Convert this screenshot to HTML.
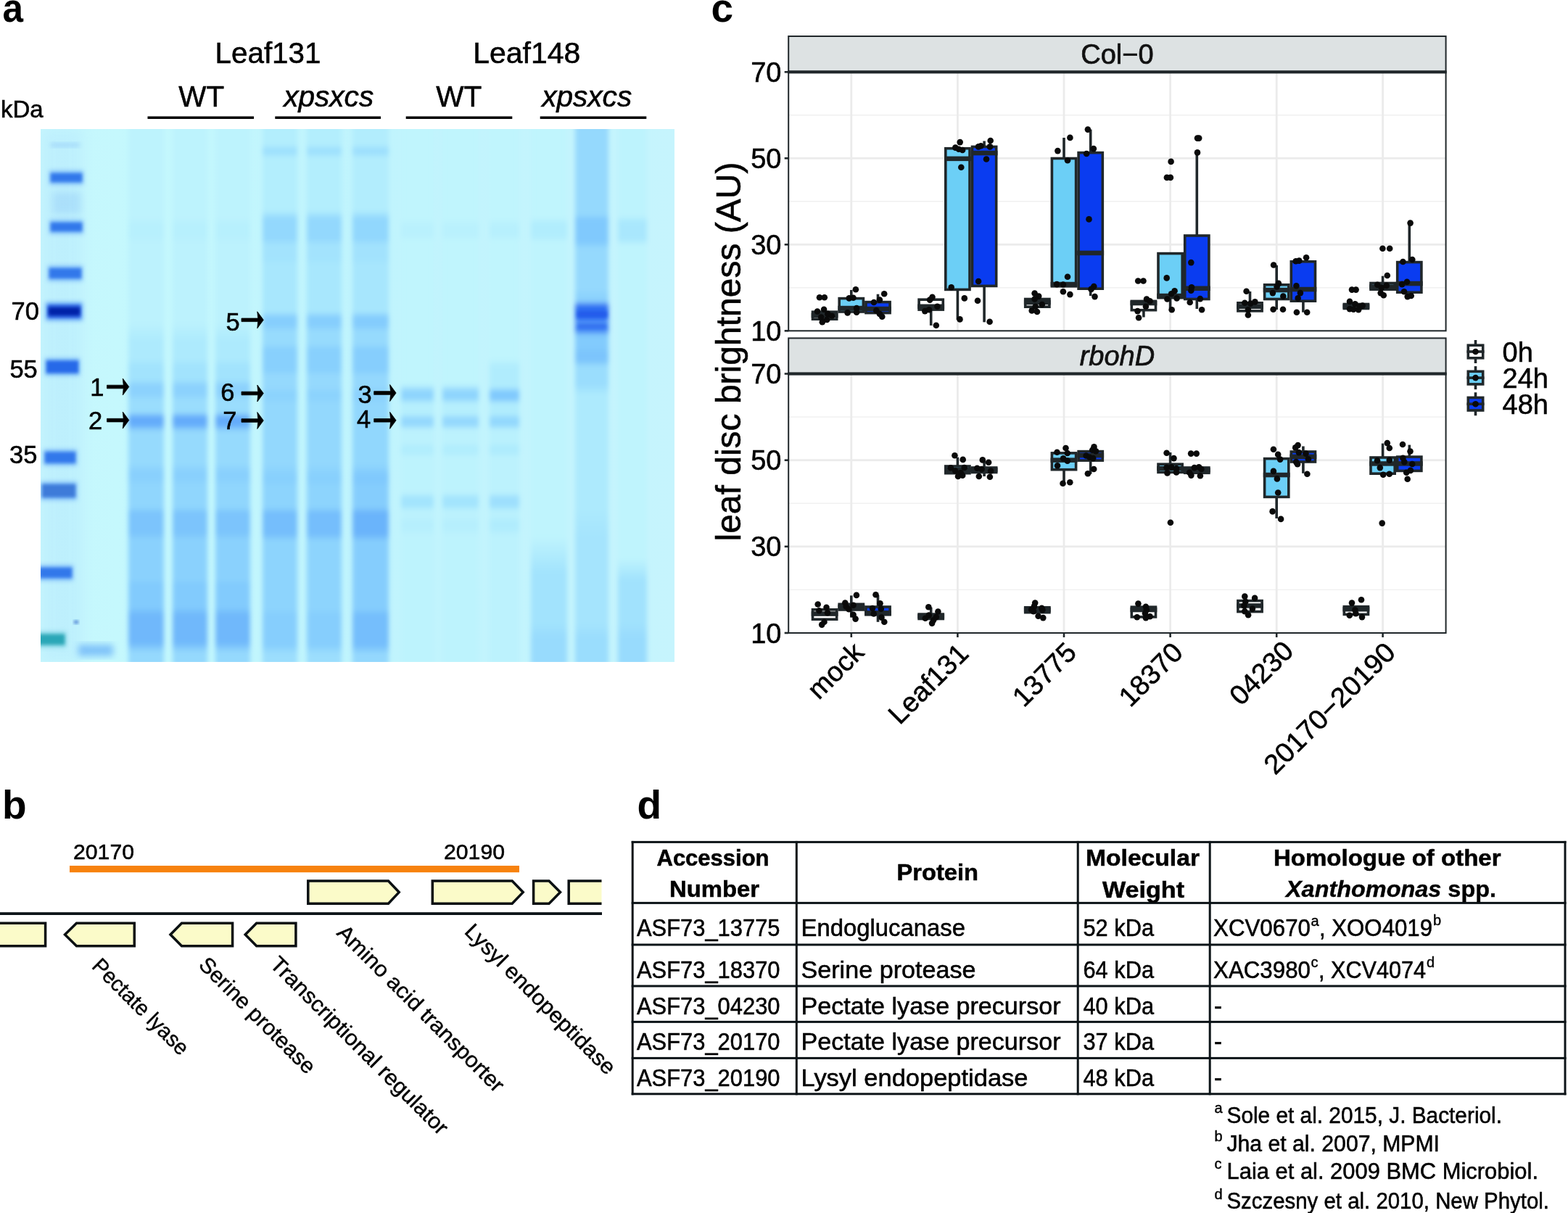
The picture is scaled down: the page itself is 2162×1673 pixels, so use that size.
<!DOCTYPE html>
<html lang="en">
<head>
<meta charset="utf-8">
<title>Figure</title>
<style>
html,body{margin:0;padding:0;background:#fff;}
body{width:2162px;height:1673px;overflow:hidden;}
svg{display:block;font-family:'Liberation Sans', Arial, Helvetica, sans-serif;}
</style>
</head>
<body>
<svg width="2162" height="1673" viewBox="0 0 2162 1673">
<rect x="0" y="0" width="2162" height="1673" fill="#ffffff"/>
<defs>
<clipPath id="gelclip"><rect x="56" y="178" width="874" height="735"/></clipPath>
<filter id="b2" x="-20%" y="-50%" width="140%" height="200%"><feGaussianBlur stdDeviation="2"/></filter>
<filter id="b3" x="-20%" y="-50%" width="140%" height="200%"><feGaussianBlur stdDeviation="3.2"/></filter>
<filter id="b3x" x="-20%" y="-5%" width="140%" height="110%"><feGaussianBlur stdDeviation="3 3.5"/></filter>
<filter id="b5" x="-30%" y="-30%" width="160%" height="160%"><feGaussianBlur stdDeviation="5"/></filter>
<filter id="b8" x="-30%" y="-30%" width="160%" height="160%"><feGaussianBlur stdDeviation="8"/></filter>
<linearGradient id="gelbg" x1="0" y1="0" x2="1" y2="0"><stop offset="0" stop-color="#c6f6fd"/><stop offset="0.12" stop-color="#c5f8fd"/><stop offset="0.5" stop-color="#c0f4fd"/><stop offset="1" stop-color="#c6f4fd"/></linearGradient>
</defs>
<g clip-path="url(#gelclip)">
<rect x="56" y="178" width="874" height="735" fill="url(#gelbg)"/>
<linearGradient id="lg1" gradientUnits="userSpaceOnUse" x1="0" y1="178" x2="0" y2="913"><stop offset="0.0000" stop-color="#bdf3fd"/><stop offset="0.1660" stop-color="#bdf3fd"/><stop offset="0.1796" stop-color="#b7f0fd"/><stop offset="0.2014" stop-color="#b7f0fd"/><stop offset="0.2150" stop-color="#bcf2fd"/><stop offset="0.3633" stop-color="#bcf2fd"/><stop offset="0.3973" stop-color="#adeafd"/><stop offset="0.4313" stop-color="#adeafd"/><stop offset="0.4449" stop-color="#a2e3fd"/><stop offset="0.4707" stop-color="#a2e3fd"/><stop offset="0.4803" stop-color="#8cd2fd"/><stop offset="0.4993" stop-color="#8cd2fd"/><stop offset="0.5075" stop-color="#9addfd"/><stop offset="0.5320" stop-color="#9addfd"/><stop offset="0.5401" stop-color="#63abfa"/><stop offset="0.5551" stop-color="#63abfa"/><stop offset="0.5673" stop-color="#96dafd"/><stop offset="0.6286" stop-color="#96dafd"/><stop offset="0.6422" stop-color="#89d0fd"/><stop offset="0.6585" stop-color="#89d0fd"/><stop offset="0.6667" stop-color="#90d6fd"/><stop offset="0.7102" stop-color="#90d6fd"/><stop offset="0.7197" stop-color="#7bc4fc"/><stop offset="0.7578" stop-color="#7bc4fc"/><stop offset="0.7701" stop-color="#8ad1fd"/><stop offset="0.8463" stop-color="#8ad1fd"/><stop offset="0.8531" stop-color="#82cbfd"/><stop offset="0.8980" stop-color="#82cbfd"/><stop offset="0.9116" stop-color="#6fb8fb"/><stop offset="0.9633" stop-color="#6fb8fb"/><stop offset="0.9823" stop-color="#95d9fd"/><stop offset="1.0000" stop-color="#95d9fd"/></linearGradient>
<rect x="177" y="168" width="49" height="755" fill="url(#lg1)" filter="url(#b3x)"/>
<linearGradient id="lg2" gradientUnits="userSpaceOnUse" x1="0" y1="178" x2="0" y2="913"><stop offset="0.0000" stop-color="#bdf3fd"/><stop offset="0.1660" stop-color="#bdf3fd"/><stop offset="0.1796" stop-color="#b7f0fd"/><stop offset="0.2014" stop-color="#b7f0fd"/><stop offset="0.2150" stop-color="#bcf2fd"/><stop offset="0.3633" stop-color="#bcf2fd"/><stop offset="0.3973" stop-color="#adeafd"/><stop offset="0.4313" stop-color="#adeafd"/><stop offset="0.4449" stop-color="#a2e3fd"/><stop offset="0.4707" stop-color="#a2e3fd"/><stop offset="0.4803" stop-color="#8cd2fd"/><stop offset="0.4993" stop-color="#8cd2fd"/><stop offset="0.5075" stop-color="#9addfd"/><stop offset="0.5320" stop-color="#9addfd"/><stop offset="0.5401" stop-color="#63abfa"/><stop offset="0.5551" stop-color="#63abfa"/><stop offset="0.5673" stop-color="#96dafd"/><stop offset="0.6286" stop-color="#96dafd"/><stop offset="0.6422" stop-color="#89d0fd"/><stop offset="0.6585" stop-color="#89d0fd"/><stop offset="0.6667" stop-color="#90d6fd"/><stop offset="0.7102" stop-color="#90d6fd"/><stop offset="0.7197" stop-color="#7bc4fc"/><stop offset="0.7578" stop-color="#7bc4fc"/><stop offset="0.7701" stop-color="#8ad1fd"/><stop offset="0.8463" stop-color="#8ad1fd"/><stop offset="0.8531" stop-color="#82cbfd"/><stop offset="0.8980" stop-color="#82cbfd"/><stop offset="0.9116" stop-color="#6fb8fb"/><stop offset="0.9633" stop-color="#6fb8fb"/><stop offset="0.9823" stop-color="#95d9fd"/><stop offset="1.0000" stop-color="#95d9fd"/></linearGradient>
<rect x="238" y="168" width="48" height="755" fill="url(#lg2)" filter="url(#b3x)"/>
<linearGradient id="lg3" gradientUnits="userSpaceOnUse" x1="0" y1="178" x2="0" y2="913"><stop offset="0.0000" stop-color="#bdf3fd"/><stop offset="0.1660" stop-color="#bdf3fd"/><stop offset="0.1796" stop-color="#b7f0fd"/><stop offset="0.2014" stop-color="#b7f0fd"/><stop offset="0.2150" stop-color="#bcf2fd"/><stop offset="0.3633" stop-color="#bcf2fd"/><stop offset="0.3973" stop-color="#adeafd"/><stop offset="0.4313" stop-color="#adeafd"/><stop offset="0.4449" stop-color="#a2e3fd"/><stop offset="0.4707" stop-color="#a2e3fd"/><stop offset="0.4803" stop-color="#8cd2fd"/><stop offset="0.4993" stop-color="#8cd2fd"/><stop offset="0.5075" stop-color="#9addfd"/><stop offset="0.5320" stop-color="#9addfd"/><stop offset="0.5401" stop-color="#63abfa"/><stop offset="0.5551" stop-color="#63abfa"/><stop offset="0.5673" stop-color="#96dafd"/><stop offset="0.6286" stop-color="#96dafd"/><stop offset="0.6422" stop-color="#89d0fd"/><stop offset="0.6585" stop-color="#89d0fd"/><stop offset="0.6667" stop-color="#90d6fd"/><stop offset="0.7102" stop-color="#90d6fd"/><stop offset="0.7197" stop-color="#7bc4fc"/><stop offset="0.7578" stop-color="#7bc4fc"/><stop offset="0.7701" stop-color="#8ad1fd"/><stop offset="0.8463" stop-color="#8ad1fd"/><stop offset="0.8531" stop-color="#82cbfd"/><stop offset="0.8980" stop-color="#82cbfd"/><stop offset="0.9116" stop-color="#6fb8fb"/><stop offset="0.9633" stop-color="#6fb8fb"/><stop offset="0.9823" stop-color="#95d9fd"/><stop offset="1.0000" stop-color="#95d9fd"/></linearGradient>
<rect x="297" y="168" width="48" height="755" fill="url(#lg3)" filter="url(#b3x)"/>
<linearGradient id="lg4" gradientUnits="userSpaceOnUse" x1="0" y1="178" x2="0" y2="913"><stop offset="0.0000" stop-color="#b3eefd"/><stop offset="0.0299" stop-color="#b3eefd"/><stop offset="0.0367" stop-color="#9ee0fd"/><stop offset="0.0463" stop-color="#9ee0fd"/><stop offset="0.0531" stop-color="#b3eefd"/><stop offset="0.1524" stop-color="#b3eefd"/><stop offset="0.1687" stop-color="#93d8fd"/><stop offset="0.2068" stop-color="#93d8fd"/><stop offset="0.2163" stop-color="#a3e3fd"/><stop offset="0.2449" stop-color="#a3e3fd"/><stop offset="0.2544" stop-color="#a8e7fd"/><stop offset="0.3429" stop-color="#a8e7fd"/><stop offset="0.3524" stop-color="#86cefd"/><stop offset="0.3701" stop-color="#86cefd"/><stop offset="0.3782" stop-color="#97dbfd"/><stop offset="0.4041" stop-color="#97dbfd"/><stop offset="0.4122" stop-color="#88d0fd"/><stop offset="0.4544" stop-color="#88d0fd"/><stop offset="0.4612" stop-color="#95d9fd"/><stop offset="0.4857" stop-color="#95d9fd"/><stop offset="0.4925" stop-color="#8cd3fd"/><stop offset="0.5061" stop-color="#8cd3fd"/><stop offset="0.5143" stop-color="#93d8fd"/><stop offset="0.6286" stop-color="#93d8fd"/><stop offset="0.6490" stop-color="#88d0fd"/><stop offset="0.6626" stop-color="#88d0fd"/><stop offset="0.6694" stop-color="#8dd4fd"/><stop offset="0.7102" stop-color="#8dd4fd"/><stop offset="0.7197" stop-color="#75befc"/><stop offset="0.7605" stop-color="#75befc"/><stop offset="0.7728" stop-color="#8dd4fd"/><stop offset="0.9007" stop-color="#8dd4fd"/><stop offset="0.9116" stop-color="#86cefd"/><stop offset="0.9687" stop-color="#86cefd"/><stop offset="0.9850" stop-color="#9cdefd"/><stop offset="1.0000" stop-color="#9cdefd"/></linearGradient>
<rect x="362" y="168" width="48" height="755" fill="url(#lg4)" filter="url(#b3x)"/>
<linearGradient id="lg5" gradientUnits="userSpaceOnUse" x1="0" y1="178" x2="0" y2="913"><stop offset="0.0000" stop-color="#b3eefd"/><stop offset="0.0299" stop-color="#b3eefd"/><stop offset="0.0367" stop-color="#9ee0fd"/><stop offset="0.0463" stop-color="#9ee0fd"/><stop offset="0.0531" stop-color="#b3eefd"/><stop offset="0.1524" stop-color="#b3eefd"/><stop offset="0.1687" stop-color="#93d8fd"/><stop offset="0.2068" stop-color="#93d8fd"/><stop offset="0.2163" stop-color="#a3e3fd"/><stop offset="0.2449" stop-color="#a3e3fd"/><stop offset="0.2544" stop-color="#a8e7fd"/><stop offset="0.3429" stop-color="#a8e7fd"/><stop offset="0.3524" stop-color="#86cefd"/><stop offset="0.3701" stop-color="#86cefd"/><stop offset="0.3782" stop-color="#97dbfd"/><stop offset="0.4041" stop-color="#97dbfd"/><stop offset="0.4122" stop-color="#88d0fd"/><stop offset="0.4544" stop-color="#88d0fd"/><stop offset="0.4612" stop-color="#95d9fd"/><stop offset="0.4857" stop-color="#95d9fd"/><stop offset="0.4925" stop-color="#8cd3fd"/><stop offset="0.5061" stop-color="#8cd3fd"/><stop offset="0.5143" stop-color="#93d8fd"/><stop offset="0.6286" stop-color="#93d8fd"/><stop offset="0.6490" stop-color="#88d0fd"/><stop offset="0.6626" stop-color="#88d0fd"/><stop offset="0.6694" stop-color="#8dd4fd"/><stop offset="0.7102" stop-color="#8dd4fd"/><stop offset="0.7197" stop-color="#75befc"/><stop offset="0.7605" stop-color="#75befc"/><stop offset="0.7728" stop-color="#8dd4fd"/><stop offset="0.9007" stop-color="#8dd4fd"/><stop offset="0.9116" stop-color="#86cefd"/><stop offset="0.9687" stop-color="#86cefd"/><stop offset="0.9850" stop-color="#9cdefd"/><stop offset="1.0000" stop-color="#9cdefd"/></linearGradient>
<rect x="423" y="168" width="48" height="755" fill="url(#lg5)" filter="url(#b3x)"/>
<linearGradient id="lg6" gradientUnits="userSpaceOnUse" x1="0" y1="178" x2="0" y2="913"><stop offset="0.0000" stop-color="#b2edfd"/><stop offset="0.0299" stop-color="#b2edfd"/><stop offset="0.0367" stop-color="#9ddffd"/><stop offset="0.0463" stop-color="#9ddffd"/><stop offset="0.0531" stop-color="#b2edfd"/><stop offset="0.1524" stop-color="#b2edfd"/><stop offset="0.1687" stop-color="#91d7fd"/><stop offset="0.2068" stop-color="#91d7fd"/><stop offset="0.2163" stop-color="#a2e2fd"/><stop offset="0.2449" stop-color="#a2e2fd"/><stop offset="0.2544" stop-color="#a7e6fd"/><stop offset="0.3429" stop-color="#a7e6fd"/><stop offset="0.3524" stop-color="#84ccfd"/><stop offset="0.3701" stop-color="#84ccfd"/><stop offset="0.3782" stop-color="#96dafd"/><stop offset="0.4041" stop-color="#96dafd"/><stop offset="0.4122" stop-color="#86cefd"/><stop offset="0.4544" stop-color="#86cefd"/><stop offset="0.4612" stop-color="#94d8fd"/><stop offset="0.4857" stop-color="#94d8fd"/><stop offset="0.4925" stop-color="#8bd1fd"/><stop offset="0.5061" stop-color="#8bd1fd"/><stop offset="0.5143" stop-color="#91d7fd"/><stop offset="0.6286" stop-color="#91d7fd"/><stop offset="0.6490" stop-color="#80c9fd"/><stop offset="0.6626" stop-color="#80c9fd"/><stop offset="0.6694" stop-color="#85cdfd"/><stop offset="0.7102" stop-color="#85cdfd"/><stop offset="0.7197" stop-color="#6bb4fb"/><stop offset="0.7605" stop-color="#6bb4fb"/><stop offset="0.7728" stop-color="#85cdfd"/><stop offset="0.9007" stop-color="#85cdfd"/><stop offset="0.9116" stop-color="#75befc"/><stop offset="0.9687" stop-color="#75befc"/><stop offset="0.9850" stop-color="#94d8fd"/><stop offset="1.0000" stop-color="#94d8fd"/></linearGradient>
<rect x="486" y="168" width="50" height="755" fill="url(#lg6)" filter="url(#b3x)"/>
<linearGradient id="lg7" gradientUnits="userSpaceOnUse" x1="0" y1="178" x2="0" y2="913"><stop offset="0.0000" stop-color="#c0f5fd"/><stop offset="0.1687" stop-color="#c0f5fd"/><stop offset="0.1810" stop-color="#b9f1fd"/><stop offset="0.2000" stop-color="#b9f1fd"/><stop offset="0.2095" stop-color="#c0f5fd"/><stop offset="0.4789" stop-color="#c0f5fd"/><stop offset="0.4925" stop-color="#8ed4fd"/><stop offset="0.5061" stop-color="#8ed4fd"/><stop offset="0.5143" stop-color="#b6effd"/><stop offset="0.5361" stop-color="#b6effd"/><stop offset="0.5415" stop-color="#94d8fd"/><stop offset="0.5565" stop-color="#94d8fd"/><stop offset="0.5633" stop-color="#bcf2fd"/><stop offset="0.5905" stop-color="#bcf2fd"/><stop offset="0.5946" stop-color="#b1edfd"/><stop offset="0.6082" stop-color="#b1edfd"/><stop offset="0.6150" stop-color="#bdf3fd"/><stop offset="0.6830" stop-color="#bdf3fd"/><stop offset="0.6912" stop-color="#a3e4fd"/><stop offset="0.7075" stop-color="#a3e4fd"/><stop offset="0.7156" stop-color="#bcf2fd"/><stop offset="0.7293" stop-color="#bcf2fd"/><stop offset="0.7347" stop-color="#b6effd"/><stop offset="0.7510" stop-color="#b6effd"/><stop offset="0.7619" stop-color="#bdf3fd"/><stop offset="1.0000" stop-color="#bdf3fd"/></linearGradient>
<rect x="553" y="168" width="45" height="755" fill="url(#lg7)" filter="url(#b3x)"/>
<linearGradient id="lg8" gradientUnits="userSpaceOnUse" x1="0" y1="178" x2="0" y2="913"><stop offset="0.0000" stop-color="#c0f5fd"/><stop offset="0.1687" stop-color="#c0f5fd"/><stop offset="0.1810" stop-color="#b9f1fd"/><stop offset="0.2000" stop-color="#b9f1fd"/><stop offset="0.2095" stop-color="#c0f5fd"/><stop offset="0.4789" stop-color="#c0f5fd"/><stop offset="0.4925" stop-color="#8ed4fd"/><stop offset="0.5061" stop-color="#8ed4fd"/><stop offset="0.5143" stop-color="#b6effd"/><stop offset="0.5361" stop-color="#b6effd"/><stop offset="0.5415" stop-color="#94d8fd"/><stop offset="0.5565" stop-color="#94d8fd"/><stop offset="0.5633" stop-color="#bcf2fd"/><stop offset="0.5905" stop-color="#bcf2fd"/><stop offset="0.5946" stop-color="#b1edfd"/><stop offset="0.6082" stop-color="#b1edfd"/><stop offset="0.6150" stop-color="#bdf3fd"/><stop offset="0.6830" stop-color="#bdf3fd"/><stop offset="0.6912" stop-color="#a3e4fd"/><stop offset="0.7075" stop-color="#a3e4fd"/><stop offset="0.7156" stop-color="#bcf2fd"/><stop offset="0.7293" stop-color="#bcf2fd"/><stop offset="0.7347" stop-color="#b6effd"/><stop offset="0.7510" stop-color="#b6effd"/><stop offset="0.7619" stop-color="#bdf3fd"/><stop offset="1.0000" stop-color="#bdf3fd"/></linearGradient>
<rect x="610" y="168" width="50" height="755" fill="url(#lg8)" filter="url(#b3x)"/>
<linearGradient id="lg9" gradientUnits="userSpaceOnUse" x1="0" y1="178" x2="0" y2="913"><stop offset="0.0000" stop-color="#c0f5fd"/><stop offset="0.1687" stop-color="#c0f5fd"/><stop offset="0.1810" stop-color="#b7f0fd"/><stop offset="0.2000" stop-color="#b7f0fd"/><stop offset="0.2095" stop-color="#c0f5fd"/><stop offset="0.4313" stop-color="#c0f5fd"/><stop offset="0.4449" stop-color="#b0ecfd"/><stop offset="0.4844" stop-color="#b0ecfd"/><stop offset="0.4925" stop-color="#80c9fd"/><stop offset="0.5075" stop-color="#80c9fd"/><stop offset="0.5143" stop-color="#b0ecfd"/><stop offset="0.5361" stop-color="#b0ecfd"/><stop offset="0.5415" stop-color="#93d8fd"/><stop offset="0.5565" stop-color="#93d8fd"/><stop offset="0.5633" stop-color="#b9f1fd"/><stop offset="0.5905" stop-color="#b9f1fd"/><stop offset="0.5946" stop-color="#aeebfd"/><stop offset="0.6082" stop-color="#aeebfd"/><stop offset="0.6150" stop-color="#bcf2fd"/><stop offset="0.6830" stop-color="#bcf2fd"/><stop offset="0.6912" stop-color="#9ddffd"/><stop offset="0.7075" stop-color="#9ddffd"/><stop offset="0.7156" stop-color="#b9f1fd"/><stop offset="0.7293" stop-color="#b9f1fd"/><stop offset="0.7347" stop-color="#b0ecfd"/><stop offset="0.7510" stop-color="#b0ecfd"/><stop offset="0.7619" stop-color="#bcf2fd"/><stop offset="1.0000" stop-color="#bcf2fd"/></linearGradient>
<rect x="675" y="168" width="41" height="755" fill="url(#lg9)" filter="url(#b3x)"/>
<linearGradient id="lg10" gradientUnits="userSpaceOnUse" x1="0" y1="178" x2="0" y2="913"><stop offset="0.0000" stop-color="#c0f5fd"/><stop offset="0.1660" stop-color="#c0f5fd"/><stop offset="0.1769" stop-color="#b1edfd"/><stop offset="0.2014" stop-color="#b1edfd"/><stop offset="0.2122" stop-color="#bff4fd"/><stop offset="0.7646" stop-color="#bff4fd"/><stop offset="0.8327" stop-color="#a2e3fd"/><stop offset="0.9279" stop-color="#a2e3fd"/><stop offset="0.9551" stop-color="#98dbfd"/><stop offset="1.0000" stop-color="#98dbfd"/></linearGradient>
<rect x="732" y="168" width="50" height="755" fill="url(#lg10)" filter="url(#b3x)"/>
<linearGradient id="lg11" gradientUnits="userSpaceOnUse" x1="0" y1="178" x2="0" y2="913"><stop offset="0.0000" stop-color="#95d9fd"/><stop offset="0.1605" stop-color="#95d9fd"/><stop offset="0.1687" stop-color="#80c9fd"/><stop offset="0.2122" stop-color="#80c9fd"/><stop offset="0.2231" stop-color="#95d9fd"/><stop offset="0.3020" stop-color="#95d9fd"/><stop offset="0.3129" stop-color="#8cd2fd"/><stop offset="0.3238" stop-color="#8cd2fd"/><stop offset="0.3306" stop-color="#2e6ef2"/><stop offset="0.3578" stop-color="#2e6ef2"/><stop offset="0.3605" stop-color="#549af9"/><stop offset="0.3646" stop-color="#549af9"/><stop offset="0.3673" stop-color="#3b7ef4"/><stop offset="0.3782" stop-color="#3b7ef4"/><stop offset="0.3864" stop-color="#82cbfd"/><stop offset="0.4109" stop-color="#82cbfd"/><stop offset="0.4190" stop-color="#7bc4fc"/><stop offset="0.4354" stop-color="#7bc4fc"/><stop offset="0.4449" stop-color="#9addfd"/><stop offset="0.4789" stop-color="#9addfd"/><stop offset="0.4993" stop-color="#adeafd"/><stop offset="0.7102" stop-color="#adeafd"/><stop offset="0.7646" stop-color="#a5e4fd"/><stop offset="0.9279" stop-color="#a5e4fd"/><stop offset="0.9551" stop-color="#9addfd"/><stop offset="1.0000" stop-color="#9addfd"/></linearGradient>
<rect x="793" y="168" width="46" height="755" fill="url(#lg11)" filter="url(#b3x)"/>
<linearGradient id="lg12" gradientUnits="userSpaceOnUse" x1="0" y1="178" x2="0" y2="913"><stop offset="0.0000" stop-color="#bdf3fd"/><stop offset="0.1633" stop-color="#bdf3fd"/><stop offset="0.1741" stop-color="#a9e7fd"/><stop offset="0.2068" stop-color="#a9e7fd"/><stop offset="0.2177" stop-color="#bff4fd"/><stop offset="0.8054" stop-color="#bff4fd"/><stop offset="0.8463" stop-color="#a1e2fd"/><stop offset="0.9279" stop-color="#a1e2fd"/><stop offset="0.9551" stop-color="#98dbfd"/><stop offset="1.0000" stop-color="#98dbfd"/></linearGradient>
<rect x="852" y="168" width="40" height="755" fill="url(#lg12)" filter="url(#b3x)"/>
<rect x="796" y="429.0" width="41" height="9" fill="#2058ea" opacity="0.85" filter="url(#b2)"/>
<rect x="797" y="447.0" width="39" height="6" fill="#2a62ea" opacity="0.5" filter="url(#b2)"/>
<rect x="58" y="178" width="56" height="735" fill="#7fb8ff" opacity="0.1" filter="url(#b8)"/>
<rect x="68" y="235.5" width="47" height="19" fill="#4a90f6" opacity="0.55" filter="url(#b3)"/>
<rect x="70" y="239.0" width="43" height="12" fill="#2f74ea" opacity="0.95" filter="url(#b2)"/>
<rect x="68" y="303.5" width="47" height="19" fill="#4a90f6" opacity="0.55" filter="url(#b3)"/>
<rect x="70" y="307.0" width="43" height="12" fill="#2f74ea" opacity="0.95" filter="url(#b2)"/>
<rect x="66" y="366.5" width="48" height="21" fill="#4a90f6" opacity="0.55" filter="url(#b3)"/>
<rect x="68" y="370.0" width="44" height="14" fill="#2f74ea" opacity="0.95" filter="url(#b2)"/>
<rect x="63" y="417.0" width="51" height="25" fill="#3f86f6" opacity="0.7" filter="url(#b3)"/>
<rect x="66" y="420.5" width="45" height="18" fill="#2a62e0" opacity="0.95" filter="url(#b2)"/>
<rect x="67" y="424.0" width="43" height="11" fill="#0424a8" opacity="1.0" filter="url(#b2)"/>
<rect x="62" y="494.0" width="48" height="24" fill="#4a90f6" opacity="0.55" filter="url(#b3)"/>
<rect x="64" y="497.5" width="44" height="17" fill="#2465e8" opacity="0.95" filter="url(#b2)"/>
<rect x="60" y="620.0" width="46" height="22" fill="#4a90f6" opacity="0.55" filter="url(#b3)"/>
<rect x="62" y="623.5" width="42" height="15" fill="#2f74ea" opacity="0.95" filter="url(#b2)"/>
<rect x="56" y="664.5" width="50" height="25" fill="#4a90f6" opacity="0.55" filter="url(#b3)"/>
<rect x="58" y="668.0" width="46" height="18" fill="#3a78d8" opacity="0.95" filter="url(#b2)"/>
<rect x="52" y="779.5" width="49" height="21" fill="#4a90f6" opacity="0.55" filter="url(#b3)"/>
<rect x="54" y="783.0" width="45" height="14" fill="#2f74ea" opacity="0.95" filter="url(#b2)"/>
<rect x="50" y="871.5" width="41" height="21" fill="#4ab8c8" opacity="0.55" filter="url(#b3)"/>
<rect x="52" y="875.0" width="37" height="14" fill="#25a5b5" opacity="0.95" filter="url(#b2)"/>
<rect x="70" y="197.5" width="40" height="5" fill="#2f74ea" opacity="0.2" filter="url(#b3)"/>
<rect x="72" y="265.0" width="40" height="30" fill="#2f74ea" opacity="0.12" filter="url(#b5)"/>
<rect x="102" y="856" width="6" height="4" fill="#1d4fc0" opacity="0.8" filter="url(#b2)"/>
<rect x="108" y="889.0" width="48" height="16" fill="#4a9af6" opacity="0.55" filter="url(#b5)"/>
</g>
<text x="3.5" y="29.6" font-size="55" font-weight="bold" textLength="28.5" lengthAdjust="spacingAndGlyphs">a</text>
<text x="296.5" y="86.8" font-size="40.4" stroke="#000" stroke-width="0.55">Leaf131</text>
<text x="652.3" y="86.8" font-size="40.4" textLength="148.0" lengthAdjust="spacingAndGlyphs" stroke="#000" stroke-width="0.55">Leaf148</text>
<text x="246.3" y="146.6" font-size="40.4" stroke="#000" stroke-width="0.55">WT</text>
<text x="601.3" y="146.6" font-size="40.6" stroke="#000" stroke-width="0.55">WT</text>
<text x="391.2" y="146.6" font-size="40.6" font-style="italic" stroke="#000" stroke-width="0.55">xpsxcs</text>
<text x="747.2" y="146.6" font-size="40.6" font-style="italic" stroke="#000" stroke-width="0.55">xpsxcs</text>
<rect x="203.5" y="160.5" width="146.5" height="3.5" fill="#000"/>
<rect x="379.3" y="160.5" width="145.7" height="3.5" fill="#000"/>
<rect x="559.7" y="160.5" width="146.6" height="3.5" fill="#000"/>
<rect x="744.7" y="160.5" width="146.6" height="3.5" fill="#000"/>
<text x="1.0" y="162.0" font-size="33" stroke="#000" stroke-width="0.55">kDa</text>
<text x="15.6" y="441.3" font-size="34.5" stroke="#000" stroke-width="0.55">70</text>
<text x="13.4" y="520.7" font-size="34.5" stroke="#000" stroke-width="0.55">55</text>
<text x="13.0" y="639.3" font-size="34.5" stroke="#000" stroke-width="0.55">35</text>
<text x="124.3" y="545.8" font-size="34.5" stroke="#000" stroke-width="0.55">1</text>
<path d="M147.5 531.2H170.2L169.3 522.0L177.8 533.5L169.3 545.0L170.2 535.8H147.5Z" fill="#000" stroke="#000" stroke-width="0.8" stroke-linejoin="round"/>
<text x="122.0" y="591.8" font-size="34.5" stroke="#000" stroke-width="0.55">2</text>
<path d="M147.5 577.3000000000001H170.2L169.3 568.1L177.8 579.6L169.3 591.1L170.2 581.9H147.5Z" fill="#000" stroke="#000" stroke-width="0.8" stroke-linejoin="round"/>
<text x="311.5" y="456.0" font-size="34.5" stroke="#000" stroke-width="0.55">5</text>
<path d="M333 439.0H355.7L354.8 429.8L363.3 441.3L354.8 452.8L355.7 443.6H333Z" fill="#000" stroke="#000" stroke-width="0.8" stroke-linejoin="round"/>
<text x="304.3" y="552.6" font-size="34.5" stroke="#000" stroke-width="0.55">6</text>
<path d="M333 540.2H355.7L354.8 531.0L363.3 542.5L354.8 554.0L355.7 544.8H333Z" fill="#000" stroke="#000" stroke-width="0.8" stroke-linejoin="round"/>
<text x="307.3" y="592.2" font-size="34.5" stroke="#000" stroke-width="0.55">7</text>
<path d="M333 577.7H355.7L354.8 568.5L363.3 580.0L354.8 591.5L355.7 582.3H333Z" fill="#000" stroke="#000" stroke-width="0.8" stroke-linejoin="round"/>
<text x="493.5" y="556.0" font-size="34.5" stroke="#000" stroke-width="0.55">3</text>
<path d="M515.7 539.7H538.5L537.5999999999999 530.5L546.0999999999999 542.0L537.5999999999999 553.5L538.5 544.3H515.7Z" fill="#000" stroke="#000" stroke-width="0.8" stroke-linejoin="round"/>
<text x="492.0" y="589.6" font-size="34.5" stroke="#000" stroke-width="0.55">4</text>
<path d="M515.7 577.5H538.5L537.5999999999999 568.3L546.0999999999999 579.8L537.5999999999999 591.3L538.5 582.0999999999999H515.7Z" fill="#000" stroke="#000" stroke-width="0.8" stroke-linejoin="round"/>
<rect x="1087.2" y="99.3" width="906.4" height="357.0" fill="#fff"/>
<rect x="1087.2" y="158.1" width="906.4" height="1.4" fill="#f0f0f0"/>
<rect x="1087.2" y="277.1" width="906.4" height="1.4" fill="#f0f0f0"/>
<rect x="1087.2" y="396.1" width="906.4" height="1.4" fill="#f0f0f0"/>
<rect x="1087.2" y="216.9" width="906.4" height="2.8" fill="#ebebeb"/>
<rect x="1087.2" y="335.9" width="906.4" height="2.8" fill="#ebebeb"/>
<rect x="1172.4" y="99.3" width="2.8" height="357.0" fill="#ebebeb"/>
<rect x="1319.0" y="99.3" width="2.8" height="357.0" fill="#ebebeb"/>
<rect x="1465.6" y="99.3" width="2.8" height="357.0" fill="#ebebeb"/>
<rect x="1612.2" y="99.3" width="2.8" height="357.0" fill="#ebebeb"/>
<rect x="1758.8" y="99.3" width="2.8" height="357.0" fill="#ebebeb"/>
<rect x="1905.2" y="99.3" width="2.8" height="357.0" fill="#ebebeb"/>
<rect x="1087.2" y="515.5" width="906.4" height="357.5" fill="#fff"/>
<rect x="1087.2" y="574.4" width="906.4" height="1.4" fill="#f0f0f0"/>
<rect x="1087.2" y="693.5" width="906.4" height="1.4" fill="#f0f0f0"/>
<rect x="1087.2" y="812.7" width="906.4" height="1.4" fill="#f0f0f0"/>
<rect x="1087.2" y="633.3" width="906.4" height="2.8" fill="#ebebeb"/>
<rect x="1087.2" y="752.4" width="906.4" height="2.8" fill="#ebebeb"/>
<rect x="1172.4" y="515.5" width="2.8" height="357.5" fill="#ebebeb"/>
<rect x="1319.0" y="515.5" width="2.8" height="357.5" fill="#ebebeb"/>
<rect x="1465.6" y="515.5" width="2.8" height="357.5" fill="#ebebeb"/>
<rect x="1612.2" y="515.5" width="2.8" height="357.5" fill="#ebebeb"/>
<rect x="1758.8" y="515.5" width="2.8" height="357.5" fill="#ebebeb"/>
<rect x="1905.2" y="515.5" width="2.8" height="357.5" fill="#ebebeb"/>
<rect x="1120.5" y="430.2" width="33.2" height="10.0" fill="#ffffff" stroke="#20272a" stroke-width="3.6"/>
<rect x="1118.7" y="431.8" width="36.8" height="6.5" fill="#20272a"/>
<rect x="1172.0" y="400.0" width="3.6" height="10.8" fill="#20272a"/>
<rect x="1157.2" y="411.6" width="33.2" height="18.4" fill="#6ccff6" stroke="#20272a" stroke-width="3.6"/>
<rect x="1155.4" y="421.8" width="36.8" height="6.5" fill="#20272a"/>
<rect x="1208.7" y="405.7" width="3.6" height="10.1" fill="#20272a"/>
<rect x="1193.9" y="416.6" width="33.2" height="15.0" fill="#0a3cf0" stroke="#20272a" stroke-width="3.6"/>
<rect x="1192.1" y="422.8" width="36.8" height="6.5" fill="#20272a"/>
<rect x="1281.9" y="427.9" width="3.6" height="21.0" fill="#20272a"/>
<rect x="1267.1" y="413.2" width="33.2" height="13.9" fill="#ffffff" stroke="#20272a" stroke-width="3.6"/>
<rect x="1265.3" y="419.5" width="36.8" height="6.5" fill="#20272a"/>
<rect x="1318.6" y="400.2" width="3.6" height="40.8" fill="#20272a"/>
<rect x="1303.8" y="204.7" width="33.2" height="194.7" fill="#6ccff6" stroke="#20272a" stroke-width="3.6"/>
<rect x="1302.0" y="215.6" width="36.8" height="6.5" fill="#20272a"/>
<rect x="1355.3" y="194.5" width="3.6" height="7.1" fill="#20272a"/>
<rect x="1355.3" y="395.2" width="3.6" height="49.1" fill="#20272a"/>
<rect x="1340.5" y="202.4" width="33.2" height="192.0" fill="#0a3cf0" stroke="#20272a" stroke-width="3.6"/>
<rect x="1338.7" y="207.8" width="36.8" height="6.5" fill="#20272a"/>
<rect x="1413.7" y="412.5" width="33.2" height="10.7" fill="#ffffff" stroke="#20272a" stroke-width="3.6"/>
<rect x="1411.9" y="413.8" width="36.8" height="6.5" fill="#20272a"/>
<rect x="1465.2" y="190.0" width="3.6" height="27.7" fill="#20272a"/>
<rect x="1450.4" y="218.5" width="33.2" height="176.3" fill="#6ccff6" stroke="#20272a" stroke-width="3.6"/>
<rect x="1448.6" y="388.8" width="36.8" height="6.5" fill="#20272a"/>
<rect x="1501.9" y="178.6" width="3.6" height="31.2" fill="#20272a"/>
<rect x="1501.9" y="399.0" width="3.6" height="9.0" fill="#20272a"/>
<rect x="1487.1" y="210.6" width="33.2" height="187.6" fill="#0a3cf0" stroke="#20272a" stroke-width="3.6"/>
<rect x="1485.3" y="345.7" width="36.8" height="6.5" fill="#20272a"/>
<rect x="1575.1" y="428.5" width="3.6" height="9.0" fill="#20272a"/>
<rect x="1560.3" y="415.4" width="33.2" height="12.3" fill="#ffffff" stroke="#20272a" stroke-width="3.6"/>
<rect x="1558.5" y="414.8" width="36.8" height="6.5" fill="#20272a"/>
<rect x="1611.8" y="411.5" width="3.6" height="16.9" fill="#20272a"/>
<rect x="1597.0" y="349.6" width="33.2" height="61.1" fill="#6ccff6" stroke="#20272a" stroke-width="3.6"/>
<rect x="1595.2" y="404.8" width="36.8" height="6.5" fill="#20272a"/>
<rect x="1648.5" y="210.4" width="3.6" height="113.8" fill="#20272a"/>
<rect x="1648.5" y="413.3" width="3.6" height="12.7" fill="#20272a"/>
<rect x="1633.7" y="325.0" width="33.2" height="87.5" fill="#0a3cf0" stroke="#20272a" stroke-width="3.6"/>
<rect x="1631.9" y="394.5" width="36.8" height="6.5" fill="#20272a"/>
<rect x="1721.7" y="402.0" width="3.6" height="15.0" fill="#20272a"/>
<rect x="1706.9" y="417.8" width="33.2" height="11.1" fill="#ffffff" stroke="#20272a" stroke-width="3.6"/>
<rect x="1705.1" y="419.5" width="36.8" height="6.5" fill="#20272a"/>
<rect x="1758.4" y="366.0" width="3.6" height="26.0" fill="#20272a"/>
<rect x="1758.4" y="413.3" width="3.6" height="13.7" fill="#20272a"/>
<rect x="1743.6" y="392.8" width="33.2" height="19.7" fill="#6ccff6" stroke="#20272a" stroke-width="3.6"/>
<rect x="1741.8" y="396.8" width="36.8" height="6.5" fill="#20272a"/>
<rect x="1795.1" y="416.0" width="3.6" height="14.7" fill="#20272a"/>
<rect x="1780.3" y="360.8" width="33.2" height="54.4" fill="#0a3cf0" stroke="#20272a" stroke-width="3.6"/>
<rect x="1778.5" y="395.8" width="36.8" height="6.5" fill="#20272a"/>
<rect x="1853.3" y="419.5" width="33.2" height="6.0" fill="#ffffff" stroke="#20272a" stroke-width="3.6"/>
<rect x="1851.5" y="419.3" width="36.8" height="6.5" fill="#20272a"/>
<rect x="1904.8" y="380.7" width="3.6" height="9.0" fill="#20272a"/>
<rect x="1890.0" y="390.5" width="33.2" height="8.7" fill="#6ccff6" stroke="#20272a" stroke-width="3.6"/>
<rect x="1888.2" y="392.3" width="36.8" height="6.5" fill="#20272a"/>
<rect x="1941.5" y="308.0" width="3.6" height="52.8" fill="#20272a"/>
<rect x="1926.7" y="361.6" width="33.2" height="41.6" fill="#0a3cf0" stroke="#20272a" stroke-width="3.6"/>
<rect x="1924.9" y="387.8" width="36.8" height="6.5" fill="#20272a"/>
<rect x="1120.5" y="840.8" width="33.2" height="13.4" fill="#ffffff" stroke="#20272a" stroke-width="3.6"/>
<rect x="1118.7" y="843.3" width="36.8" height="6.5" fill="#20272a"/>
<rect x="1172.0" y="821.4" width="3.6" height="11.1" fill="#20272a"/>
<rect x="1172.0" y="841.8" width="3.6" height="9.8" fill="#20272a"/>
<rect x="1157.2" y="833.3" width="33.2" height="7.7" fill="#6ccff6" stroke="#20272a" stroke-width="3.6"/>
<rect x="1155.4" y="833.8" width="36.8" height="6.5" fill="#20272a"/>
<rect x="1208.7" y="821.0" width="3.6" height="15.2" fill="#20272a"/>
<rect x="1208.7" y="848.6" width="3.6" height="9.2" fill="#20272a"/>
<rect x="1193.9" y="837.0" width="33.2" height="10.8" fill="#0a3cf0" stroke="#20272a" stroke-width="3.6"/>
<rect x="1192.1" y="842.1" width="36.8" height="6.5" fill="#20272a"/>
<rect x="1281.9" y="837.8" width="3.6" height="8.5" fill="#20272a"/>
<rect x="1267.1" y="847.1" width="33.2" height="6.4" fill="#ffffff" stroke="#20272a" stroke-width="3.6"/>
<rect x="1265.3" y="846.8" width="36.8" height="6.5" fill="#20272a"/>
<rect x="1318.6" y="630.7" width="3.6" height="11.5" fill="#20272a"/>
<rect x="1303.8" y="643.0" width="33.2" height="9.7" fill="#6ccff6" stroke="#20272a" stroke-width="3.6"/>
<rect x="1302.0" y="644.8" width="36.8" height="6.5" fill="#20272a"/>
<rect x="1355.3" y="635.7" width="3.6" height="8.5" fill="#20272a"/>
<rect x="1355.3" y="652.3" width="3.6" height="4.7" fill="#20272a"/>
<rect x="1340.5" y="645.0" width="33.2" height="6.5" fill="#0a3cf0" stroke="#20272a" stroke-width="3.6"/>
<rect x="1338.7" y="644.8" width="36.8" height="6.5" fill="#20272a"/>
<rect x="1413.7" y="837.8" width="33.2" height="6.9" fill="#ffffff" stroke="#20272a" stroke-width="3.6"/>
<rect x="1411.9" y="837.8" width="36.8" height="6.5" fill="#20272a"/>
<rect x="1465.2" y="648.5" width="3.6" height="17.5" fill="#20272a"/>
<rect x="1450.4" y="624.9" width="33.2" height="22.8" fill="#6ccff6" stroke="#20272a" stroke-width="3.6"/>
<rect x="1448.6" y="631.4" width="36.8" height="6.5" fill="#20272a"/>
<rect x="1501.9" y="635.9" width="3.6" height="17.8" fill="#20272a"/>
<rect x="1487.1" y="622.6" width="33.2" height="12.5" fill="#0a3cf0" stroke="#20272a" stroke-width="3.6"/>
<rect x="1485.3" y="624.8" width="36.8" height="6.5" fill="#20272a"/>
<rect x="1560.3" y="837.2" width="33.2" height="13.7" fill="#ffffff" stroke="#20272a" stroke-width="3.6"/>
<rect x="1558.5" y="837.8" width="36.8" height="6.5" fill="#20272a"/>
<rect x="1611.8" y="624.0" width="3.6" height="15.4" fill="#20272a"/>
<rect x="1597.0" y="640.2" width="33.2" height="11.2" fill="#6ccff6" stroke="#20272a" stroke-width="3.6"/>
<rect x="1595.2" y="642.8" width="36.8" height="6.5" fill="#20272a"/>
<rect x="1633.7" y="645.0" width="33.2" height="7.3" fill="#0a3cf0" stroke="#20272a" stroke-width="3.6"/>
<rect x="1631.9" y="645.3" width="36.8" height="6.5" fill="#20272a"/>
<rect x="1706.9" y="828.6" width="33.2" height="15.0" fill="#ffffff" stroke="#20272a" stroke-width="3.6"/>
<rect x="1705.1" y="832.2" width="36.8" height="6.5" fill="#20272a"/>
<rect x="1758.4" y="686.2" width="3.6" height="28.8" fill="#20272a"/>
<rect x="1743.6" y="632.6" width="33.2" height="52.8" fill="#6ccff6" stroke="#20272a" stroke-width="3.6"/>
<rect x="1741.8" y="651.8" width="36.8" height="6.5" fill="#20272a"/>
<rect x="1795.1" y="615.5" width="3.6" height="6.7" fill="#20272a"/>
<rect x="1795.1" y="637.8" width="3.6" height="15.0" fill="#20272a"/>
<rect x="1780.3" y="623.0" width="33.2" height="14.0" fill="#0a3cf0" stroke="#20272a" stroke-width="3.6"/>
<rect x="1778.5" y="626.6" width="36.8" height="6.5" fill="#20272a"/>
<rect x="1853.3" y="836.7" width="33.2" height="10.7" fill="#ffffff" stroke="#20272a" stroke-width="3.6"/>
<rect x="1851.5" y="837.0" width="36.8" height="6.5" fill="#20272a"/>
<rect x="1904.8" y="611.6" width="3.6" height="18.6" fill="#20272a"/>
<rect x="1890.0" y="631.0" width="33.2" height="22.2" fill="#6ccff6" stroke="#20272a" stroke-width="3.6"/>
<rect x="1888.2" y="636.2" width="36.8" height="6.5" fill="#20272a"/>
<rect x="1941.5" y="613.6" width="3.6" height="15.7" fill="#20272a"/>
<rect x="1926.7" y="630.1" width="33.2" height="19.3" fill="#0a3cf0" stroke="#20272a" stroke-width="3.6"/>
<rect x="1924.9" y="636.2" width="36.8" height="6.5" fill="#20272a"/>
<g fill="#0a0a0a"><circle cx="1130.0" cy="410.2" r="4.3"/><circle cx="1136.8" cy="410.2" r="4.3"/><circle cx="1127.0" cy="429.5" r="4.3"/><circle cx="1136.1" cy="426.8" r="4.3"/><circle cx="1141.3" cy="432.9" r="4.3"/><circle cx="1147.0" cy="435.7" r="4.3"/><circle cx="1133.8" cy="444.3" r="4.3"/><circle cx="1140.2" cy="440.9" r="4.3"/><circle cx="1132.2" cy="437.5" r="4.3"/><circle cx="1179.9" cy="399.3" r="4.3"/><circle cx="1170.8" cy="411.4" r="4.3"/><circle cx="1176.5" cy="410.7" r="4.3"/><circle cx="1168.6" cy="431.4" r="4.3"/><circle cx="1181.1" cy="425.0" r="4.3"/><circle cx="1181.1" cy="430.7" r="4.3"/><circle cx="1219.2" cy="405.2" r="4.3"/><circle cx="1212.9" cy="413.6" r="4.3"/><circle cx="1204.9" cy="417.0" r="4.3"/><circle cx="1208.3" cy="428.4" r="4.3"/><circle cx="1212.9" cy="432.9" r="4.3"/><circle cx="1216.3" cy="436.8" r="4.3"/><circle cx="1285.5" cy="409.8" r="4.3"/><circle cx="1282.1" cy="413.6" r="4.3"/><circle cx="1292.4" cy="422.7" r="4.3"/><circle cx="1275.3" cy="429.1" r="4.3"/><circle cx="1281.0" cy="427.3" r="4.3"/><circle cx="1290.8" cy="448.8" r="4.3"/><circle cx="1323.7" cy="196.1" r="4.3"/><circle cx="1317.3" cy="203.6" r="4.3"/><circle cx="1321.9" cy="205.8" r="4.3"/><circle cx="1327.1" cy="207.0" r="4.3"/><circle cx="1325.3" cy="230.8" r="4.3"/><circle cx="1311.7" cy="396.2" r="4.3"/><circle cx="1329.8" cy="411.4" r="4.3"/><circle cx="1323.5" cy="440.4" r="4.3"/><circle cx="1365.7" cy="194.0" r="4.3"/><circle cx="1352.5" cy="201.3" r="4.3"/><circle cx="1349.1" cy="202.4" r="4.3"/><circle cx="1365.0" cy="202.4" r="4.3"/><circle cx="1360.0" cy="219.5" r="4.3"/><circle cx="1349.1" cy="388.0" r="4.3"/><circle cx="1348.0" cy="414.8" r="4.3"/><circle cx="1364.6" cy="443.8" r="4.3"/><circle cx="1426.6" cy="404.6" r="4.3"/><circle cx="1432.2" cy="408.6" r="4.3"/><circle cx="1426.6" cy="412.5" r="4.3"/><circle cx="1436.8" cy="420.0" r="4.3"/><circle cx="1427.7" cy="422.7" r="4.3"/><circle cx="1422.7" cy="428.4" r="4.3"/><circle cx="1430.0" cy="430.0" r="4.3"/><circle cx="1475.4" cy="189.9" r="4.3"/><circle cx="1458.4" cy="208.1" r="4.3"/><circle cx="1472.0" cy="221.3" r="4.3"/><circle cx="1472.0" cy="381.8" r="4.3"/><circle cx="1457.2" cy="392.1" r="4.3"/><circle cx="1465.9" cy="392.5" r="4.3"/><circle cx="1465.9" cy="402.3" r="4.3"/><circle cx="1475.4" cy="406.1" r="4.3"/><circle cx="1499.9" cy="178.6" r="4.3"/><circle cx="1507.9" cy="205.1" r="4.3"/><circle cx="1498.1" cy="212.0" r="4.3"/><circle cx="1501.5" cy="302.4" r="4.3"/><circle cx="1508.3" cy="395.0" r="4.3"/><circle cx="1504.5" cy="398.9" r="4.3"/><circle cx="1509.5" cy="409.1" r="4.3"/><circle cx="1569.2" cy="387.5" r="4.3"/><circle cx="1576.5" cy="387.5" r="4.3"/><circle cx="1581.0" cy="412.5" r="4.3"/><circle cx="1585.5" cy="415.2" r="4.3"/><circle cx="1579.9" cy="422.7" r="4.3"/><circle cx="1568.5" cy="429.1" r="4.3"/><circle cx="1570.1" cy="438.2" r="4.3"/><circle cx="1614.6" cy="222.9" r="4.3"/><circle cx="1608.9" cy="244.9" r="4.3"/><circle cx="1613.9" cy="244.9" r="4.3"/><circle cx="1608.7" cy="383.4" r="4.3"/><circle cx="1619.6" cy="401.2" r="4.3"/><circle cx="1615.1" cy="405.2" r="4.3"/><circle cx="1609.4" cy="412.5" r="4.3"/><circle cx="1622.6" cy="411.4" r="4.3"/><circle cx="1615.7" cy="427.3" r="4.3"/><circle cx="1651.0" cy="190.6" r="4.3"/><circle cx="1653.2" cy="190.6" r="4.3"/><circle cx="1651.0" cy="210.4" r="4.3"/><circle cx="1642.3" cy="362.1" r="4.3"/><circle cx="1643.0" cy="396.2" r="4.3"/><circle cx="1642.3" cy="400.7" r="4.3"/><circle cx="1654.8" cy="412.1" r="4.3"/><circle cx="1640.7" cy="417.0" r="4.3"/><circle cx="1657.1" cy="427.3" r="4.3"/><circle cx="1718.6" cy="401.8" r="4.3"/><circle cx="1716.3" cy="417.7" r="4.3"/><circle cx="1724.3" cy="418.6" r="4.3"/><circle cx="1730.4" cy="416.4" r="4.3"/><circle cx="1720.9" cy="427.3" r="4.3"/><circle cx="1720.9" cy="434.5" r="4.3"/><circle cx="1756.1" cy="365.5" r="4.3"/><circle cx="1762.9" cy="390.9" r="4.3"/><circle cx="1760.6" cy="395.5" r="4.3"/><circle cx="1754.9" cy="404.1" r="4.3"/><circle cx="1769.3" cy="408.6" r="4.3"/><circle cx="1755.6" cy="426.8" r="4.3"/><circle cx="1769.0" cy="426.8" r="4.3"/><circle cx="1801.1" cy="355.3" r="4.3"/><circle cx="1786.7" cy="360.3" r="4.3"/><circle cx="1791.3" cy="359.6" r="4.3"/><circle cx="1787.4" cy="394.3" r="4.3"/><circle cx="1792.9" cy="404.1" r="4.3"/><circle cx="1789.7" cy="411.4" r="4.3"/><circle cx="1787.9" cy="430.7" r="4.3"/><circle cx="1802.2" cy="430.7" r="4.3"/><circle cx="1864.0" cy="399.6" r="4.3"/><circle cx="1869.6" cy="399.6" r="4.3"/><circle cx="1861.0" cy="415.9" r="4.3"/><circle cx="1868.5" cy="419.3" r="4.3"/><circle cx="1875.3" cy="422.7" r="4.3"/><circle cx="1878.7" cy="421.6" r="4.3"/><circle cx="1861.0" cy="426.1" r="4.3"/><circle cx="1866.2" cy="426.8" r="4.3"/><circle cx="1873.1" cy="427.3" r="4.3"/><circle cx="1906.4" cy="342.8" r="4.3"/><circle cx="1916.2" cy="342.8" r="4.3"/><circle cx="1912.8" cy="380.0" r="4.3"/><circle cx="1899.2" cy="392.7" r="4.3"/><circle cx="1904.8" cy="396.6" r="4.3"/><circle cx="1911.7" cy="393.9" r="4.3"/><circle cx="1903.7" cy="404.1" r="4.3"/><circle cx="1907.8" cy="407.3" r="4.3"/><circle cx="1944.6" cy="307.6" r="4.3"/><circle cx="1934.4" cy="361.0" r="4.3"/><circle cx="1947.3" cy="358.0" r="4.3"/><circle cx="1940.0" cy="388.7" r="4.3"/><circle cx="1933.2" cy="392.1" r="4.3"/><circle cx="1936.0" cy="402.3" r="4.3"/><circle cx="1940.7" cy="409.1" r="4.3"/><circle cx="1945.7" cy="408.0" r="4.3"/><circle cx="1127.7" cy="833.5" r="4.3"/><circle cx="1139.5" cy="837.8" r="4.3"/><circle cx="1129.4" cy="842.3" r="4.3"/><circle cx="1141.0" cy="845.3" r="4.3"/><circle cx="1136.5" cy="857.8" r="4.3"/><circle cx="1133.2" cy="861.6" r="4.3"/><circle cx="1180.9" cy="820.9" r="4.3"/><circle cx="1165.3" cy="831.5" r="4.3"/><circle cx="1176.6" cy="834.7" r="4.3"/><circle cx="1166.6" cy="836.5" r="4.3"/><circle cx="1170.4" cy="840.3" r="4.3"/><circle cx="1176.6" cy="847.8" r="4.3"/><circle cx="1179.6" cy="853.6" r="4.3"/><circle cx="1207.5" cy="820.2" r="4.3"/><circle cx="1213.5" cy="832.2" r="4.3"/><circle cx="1203.0" cy="839.0" r="4.3"/><circle cx="1214.8" cy="839.8" r="4.3"/><circle cx="1204.7" cy="846.5" r="4.3"/><circle cx="1215.5" cy="851.6" r="4.3"/><circle cx="1219.3" cy="857.8" r="4.3"/><circle cx="1280.3" cy="837.3" r="4.3"/><circle cx="1293.4" cy="843.5" r="4.3"/><circle cx="1280.8" cy="848.6" r="4.3"/><circle cx="1290.8" cy="851.1" r="4.3"/><circle cx="1275.8" cy="852.8" r="4.3"/><circle cx="1287.1" cy="855.3" r="4.3"/><circle cx="1285.1" cy="859.6" r="4.3"/><circle cx="1316.4" cy="628.2" r="4.3"/><circle cx="1327.7" cy="633.9" r="4.3"/><circle cx="1310.9" cy="645.2" r="4.3"/><circle cx="1329.7" cy="645.0" r="4.3"/><circle cx="1317.2" cy="649.5" r="4.3"/><circle cx="1324.7" cy="652.0" r="4.3"/><circle cx="1321.0" cy="657.0" r="4.3"/><circle cx="1327.2" cy="655.8" r="4.3"/><circle cx="1354.8" cy="634.4" r="4.3"/><circle cx="1363.1" cy="637.7" r="4.3"/><circle cx="1347.3" cy="645.7" r="4.3"/><circle cx="1353.6" cy="647.0" r="4.3"/><circle cx="1366.1" cy="649.5" r="4.3"/><circle cx="1349.8" cy="657.0" r="4.3"/><circle cx="1364.9" cy="657.8" r="4.3"/><circle cx="1427.2" cy="831.6" r="4.3"/><circle cx="1425.9" cy="836.4" r="4.3"/><circle cx="1436.4" cy="838.9" r="4.3"/><circle cx="1422.1" cy="840.8" r="4.3"/><circle cx="1437.4" cy="841.2" r="4.3"/><circle cx="1425.0" cy="843.1" r="4.3"/><circle cx="1431.6" cy="849.8" r="4.3"/><circle cx="1438.3" cy="852.1" r="4.3"/><circle cx="1469.5" cy="618.0" r="4.3"/><circle cx="1457.5" cy="623.7" r="4.3"/><circle cx="1471.8" cy="625.0" r="4.3"/><circle cx="1466.1" cy="632.3" r="4.3"/><circle cx="1471.8" cy="635.6" r="4.3"/><circle cx="1458.0" cy="642.2" r="4.3"/><circle cx="1465.5" cy="666.7" r="4.3"/><circle cx="1475.3" cy="665.2" r="4.3"/><circle cx="1508.5" cy="616.4" r="4.3"/><circle cx="1506.2" cy="620.8" r="4.3"/><circle cx="1511.0" cy="622.2" r="4.3"/><circle cx="1497.6" cy="628.5" r="4.3"/><circle cx="1502.4" cy="630.8" r="4.3"/><circle cx="1507.2" cy="632.1" r="4.3"/><circle cx="1508.2" cy="647.0" r="4.3"/><circle cx="1499.9" cy="653.3" r="4.3"/><circle cx="1569.4" cy="832.6" r="4.3"/><circle cx="1579.9" cy="836.8" r="4.3"/><circle cx="1580.8" cy="841.2" r="4.3"/><circle cx="1578.9" cy="846.0" r="4.3"/><circle cx="1585.6" cy="850.2" r="4.3"/><circle cx="1567.8" cy="851.3" r="4.3"/><circle cx="1579.9" cy="852.3" r="4.3"/><circle cx="1608.6" cy="624.7" r="4.3"/><circle cx="1618.5" cy="632.1" r="4.3"/><circle cx="1608.6" cy="644.7" r="4.3"/><circle cx="1615.3" cy="644.2" r="4.3"/><circle cx="1622.0" cy="646.1" r="4.3"/><circle cx="1609.5" cy="652.4" r="4.3"/><circle cx="1622.0" cy="651.4" r="4.3"/><circle cx="1613.9" cy="720.7" r="4.3"/><circle cx="1642.1" cy="625.6" r="4.3"/><circle cx="1649.7" cy="625.6" r="4.3"/><circle cx="1646.8" cy="645.1" r="4.3"/><circle cx="1653.1" cy="644.2" r="4.3"/><circle cx="1656.4" cy="647.0" r="4.3"/><circle cx="1640.1" cy="651.8" r="4.3"/><circle cx="1642.4" cy="655.6" r="4.3"/><circle cx="1654.9" cy="656.2" r="4.3"/><circle cx="1716.3" cy="822.6" r="4.3"/><circle cx="1730.1" cy="824.9" r="4.3"/><circle cx="1717.3" cy="829.7" r="4.3"/><circle cx="1715.4" cy="835.4" r="4.3"/><circle cx="1726.9" cy="839.6" r="4.3"/><circle cx="1716.3" cy="843.1" r="4.3"/><circle cx="1721.1" cy="848.3" r="4.3"/><circle cx="1755.9" cy="619.7" r="4.3"/><circle cx="1762.2" cy="626.9" r="4.3"/><circle cx="1765.1" cy="633.6" r="4.3"/><circle cx="1755.9" cy="649.9" r="4.3"/><circle cx="1760.9" cy="660.4" r="4.3"/><circle cx="1762.2" cy="679.5" r="4.3"/><circle cx="1754.6" cy="705.4" r="4.3"/><circle cx="1766.1" cy="715.9" r="4.3"/><circle cx="1789.6" cy="614.1" r="4.3"/><circle cx="1786.2" cy="617.4" r="4.3"/><circle cx="1790.9" cy="624.1" r="4.3"/><circle cx="1800.5" cy="625.6" r="4.3"/><circle cx="1803.9" cy="633.3" r="4.3"/><circle cx="1787.1" cy="637.1" r="4.3"/><circle cx="1789.0" cy="640.3" r="4.3"/><circle cx="1802.4" cy="653.7" r="4.3"/><circle cx="1877.0" cy="827.2" r="4.3"/><circle cx="1864.0" cy="831.6" r="4.3"/><circle cx="1868.4" cy="841.2" r="4.3"/><circle cx="1869.4" cy="846.3" r="4.3"/><circle cx="1860.8" cy="848.8" r="4.3"/><circle cx="1878.0" cy="851.1" r="4.3"/><circle cx="1912.8" cy="611.1" r="4.3"/><circle cx="1915.8" cy="618.0" r="4.3"/><circle cx="1899.0" cy="635.2" r="4.3"/><circle cx="1915.8" cy="634.6" r="4.3"/><circle cx="1902.8" cy="645.1" r="4.3"/><circle cx="1907.2" cy="654.7" r="4.3"/><circle cx="1915.7" cy="653.7" r="4.3"/><circle cx="1905.7" cy="721.6" r="4.3"/><circle cx="1934.0" cy="613.0" r="4.3"/><circle cx="1944.5" cy="622.5" r="4.3"/><circle cx="1934.4" cy="631.7" r="4.3"/><circle cx="1936.3" cy="637.1" r="4.3"/><circle cx="1947.2" cy="640.0" r="4.3"/><circle cx="1944.9" cy="648.9" r="4.3"/><circle cx="1939.2" cy="651.8" r="4.3"/><circle cx="1940.7" cy="660.8" r="4.3"/></g>
<rect x="1087.2" y="50.0" width="906.4" height="49.3" fill="#dde2e3" stroke="#20272a" stroke-width="2"/>
<rect x="1087.2" y="99.3" width="906.4" height="357.0" fill="none" stroke="#20272a" stroke-width="2"/>
<rect x="1086.2" y="97.2" width="908.4" height="4.2" fill="#20272a"/>
<text x="1540.4" y="87.8" font-size="38" text-anchor="middle" fill="#111" stroke="#111" stroke-width="0.7">Col−0</text>
<rect x="1081.7" y="98.0" width="5.5" height="2.6" fill="#20272a"/>
<text x="1077.5" y="112.8" font-size="38" text-anchor="end" stroke="#000" stroke-width="0.55">70</text>
<rect x="1081.7" y="217.0" width="5.5" height="2.6" fill="#20272a"/>
<text x="1077.5" y="231.8" font-size="38" text-anchor="end" stroke="#000" stroke-width="0.55">50</text>
<rect x="1081.7" y="336.0" width="5.5" height="2.6" fill="#20272a"/>
<text x="1077.5" y="350.8" font-size="38" text-anchor="end" stroke="#000" stroke-width="0.55">30</text>
<rect x="1081.7" y="455.0" width="5.5" height="2.6" fill="#20272a"/>
<text x="1077.5" y="469.8" font-size="38" text-anchor="end" stroke="#000" stroke-width="0.55">10</text>
<rect x="1087.2" y="466.4" width="906.4" height="49.1" fill="#dde2e3" stroke="#20272a" stroke-width="2"/>
<rect x="1087.2" y="515.5" width="906.4" height="357.5" fill="none" stroke="#20272a" stroke-width="2"/>
<rect x="1086.2" y="513.4" width="908.4" height="4.2" fill="#20272a"/>
<text x="1540.4" y="504.2" font-size="38" text-anchor="middle" font-style="italic" fill="#111" stroke="#111" stroke-width="0.7">rbohD</text>
<rect x="1081.7" y="514.2" width="5.5" height="2.6" fill="#20272a"/>
<text x="1077.5" y="529.0" font-size="38" text-anchor="end" stroke="#000" stroke-width="0.55">70</text>
<rect x="1081.7" y="633.4" width="5.5" height="2.6" fill="#20272a"/>
<text x="1077.5" y="648.2" font-size="38" text-anchor="end" stroke="#000" stroke-width="0.55">50</text>
<rect x="1081.7" y="752.5" width="5.5" height="2.6" fill="#20272a"/>
<text x="1077.5" y="767.3" font-size="38" text-anchor="end" stroke="#000" stroke-width="0.55">30</text>
<rect x="1081.7" y="871.7" width="5.5" height="2.6" fill="#20272a"/>
<text x="1077.5" y="886.5" font-size="38" text-anchor="end" stroke="#000" stroke-width="0.55">10</text>
<rect x="1172.5" y="873" width="2.6" height="6" fill="#20272a"/>
<rect x="1319.1" y="873" width="2.6" height="6" fill="#20272a"/>
<rect x="1465.7" y="873" width="2.6" height="6" fill="#20272a"/>
<rect x="1612.3" y="873" width="2.6" height="6" fill="#20272a"/>
<rect x="1758.9" y="873" width="2.6" height="6" fill="#20272a"/>
<rect x="1905.3" y="873" width="2.6" height="6" fill="#20272a"/>
<text transform="translate(1193.3,902.0) rotate(-45)" font-size="38" text-anchor="end" stroke="#000" stroke-width="0.55">mock</text>
<text transform="translate(1337.7,903.5) rotate(-45)" font-size="38" text-anchor="end" stroke="#000" stroke-width="0.55">Leaf131</text>
<text transform="translate(1486.5,902.0) rotate(-45)" font-size="38" text-anchor="end" stroke="#000" stroke-width="0.55">13775</text>
<text transform="translate(1633.1,902.0) rotate(-45)" font-size="38" text-anchor="end" stroke="#000" stroke-width="0.55">18370</text>
<text transform="translate(1785.8,900.0) rotate(-45)" font-size="38" text-anchor="end" stroke="#000" stroke-width="0.55">04230</text>
<text transform="translate(1926.1,902.0) rotate(-45)" font-size="38" text-anchor="end" stroke="#000" stroke-width="0.55" textLength="237.5" lengthAdjust="spacingAndGlyphs">20170−20190</text>
<text transform="translate(1020.6,746.5) rotate(-90)" font-size="48" stroke="#000" stroke-width="0.6">leaf disc brightness (AU)</text>
<rect x="2032.7" y="469.0" width="3.6" height="32" fill="#20272a"/>
<rect x="2024.3" y="476.2" width="20.4" height="17.6" fill="#ffffff" stroke="#20272a" stroke-width="3.6"/>
<rect x="2022.5" y="483.2" width="24" height="3.6" fill="#20272a"/>
<circle cx="2034.5" cy="485.0" r="4.3" fill="#0a0a0a"/>
<text x="2071.5" y="498.8" font-size="38" stroke="#000" stroke-width="0.55">0h</text>
<rect x="2032.7" y="505.1" width="3.6" height="32" fill="#20272a"/>
<rect x="2024.3" y="512.3" width="20.4" height="17.6" fill="#6ccff6" stroke="#20272a" stroke-width="3.6"/>
<rect x="2022.5" y="519.3" width="24" height="3.6" fill="#20272a"/>
<circle cx="2034.5" cy="521.1" r="4.3" fill="#0a0a0a"/>
<text x="2071.5" y="534.9" font-size="38" stroke="#000" stroke-width="0.55">24h</text>
<rect x="2032.7" y="541.2" width="3.6" height="32" fill="#20272a"/>
<rect x="2024.3" y="548.4" width="20.4" height="17.6" fill="#0a3cf0" stroke="#20272a" stroke-width="3.6"/>
<rect x="2022.5" y="555.4" width="24" height="3.6" fill="#20272a"/>
<circle cx="2034.5" cy="557.2" r="4.3" fill="#0a0a0a"/>
<text x="2071.5" y="571.0" font-size="38" stroke="#000" stroke-width="0.55">48h</text>
<text x="980.5" y="29.8" font-size="55" font-weight="bold">c</text>
<text x="3.0" y="1129.2" font-size="55" font-weight="bold">b</text>
<text x="101.0" y="1184.8" font-size="30" textLength="84.0" lengthAdjust="spacingAndGlyphs" stroke="#000" stroke-width="0.55">20170</text>
<text x="612.0" y="1184.8" font-size="30" textLength="84.0" lengthAdjust="spacingAndGlyphs" stroke="#000" stroke-width="0.55">20190</text>
<rect x="96" y="1194" width="620" height="9.2" fill="#f7820e"/>
<rect x="0" y="1258.2" width="830" height="3.8" fill="#0d1418"/>
<path d="M-5 1273.2H62.6V1304.8H-5Z" fill="#fbfbc9" stroke="#0b1013" stroke-width="3.5" stroke-linejoin="miter"/>
<path d="M89.5 1289.0L105.5 1273.2H185.3V1304.8H105.5Z" fill="#fbfbc9" stroke="#0b1013" stroke-width="3.5" stroke-linejoin="miter"/>
<path d="M235 1289.0L250.5 1273.2H320.6V1304.8H250.5Z" fill="#fbfbc9" stroke="#0b1013" stroke-width="3.5" stroke-linejoin="miter"/>
<path d="M338.2 1289.0L353.7 1273.2H407.9V1304.8H353.7Z" fill="#fbfbc9" stroke="#0b1013" stroke-width="3.5" stroke-linejoin="miter"/>
<path d="M424.8 1215H535.5L550.2 1230.6L535.5 1246.2H424.8Z" fill="#fbfbc9" stroke="#0b1013" stroke-width="3.5" stroke-linejoin="miter"/>
<path d="M596.3 1215H706.2L721.2 1230.6L706.2 1246.2H596.3Z" fill="#fbfbc9" stroke="#0b1013" stroke-width="3.5" stroke-linejoin="miter"/>
<path d="M735.6 1215H757L772.5 1230.6L757 1246.2H735.6Z" fill="#fbfbc9" stroke="#0b1013" stroke-width="3.5" stroke-linejoin="miter"/>
<path d="M829.5 1215H784.2V1246.2H829.5" fill="#fbfbc9" stroke="#0b1013" stroke-width="3.5" stroke-linejoin="miter"/>
<text transform="translate(125.3,1334) rotate(45)" font-size="30" stroke="#000" stroke-width="0.4" textLength="174" lengthAdjust="spacingAndGlyphs">Pectate lyase</text>
<text transform="translate(272.5,1332.2) rotate(45)" font-size="30" stroke="#000" stroke-width="0.4" textLength="213" lengthAdjust="spacingAndGlyphs">Serine protease</text>
<text transform="translate(370.7,1331.5) rotate(45)" font-size="30" stroke="#000" stroke-width="0.4" textLength="333" lengthAdjust="spacingAndGlyphs">Transcriptional regulator</text>
<text transform="translate(463,1288) rotate(45)" font-size="30" stroke="#000" stroke-width="0.4" textLength="311.7" lengthAdjust="spacingAndGlyphs">Amino acid transporter</text>
<text transform="translate(639,1286.2) rotate(45)" font-size="30" stroke="#000" stroke-width="0.4" textLength="279.7" lengthAdjust="spacingAndGlyphs">Lysyl endopeptidase</text>
<text x="878.5" y="1129.2" font-size="55" font-weight="bold">d</text>
<rect x="870.7" y="1159.9" width="1288.8" height="3" fill="#0d1418"/>
<rect x="870.7" y="1243.9" width="1288.8" height="3" fill="#0d1418"/>
<rect x="870.7" y="1301.5" width="1288.8" height="3" fill="#0d1418"/>
<rect x="870.7" y="1358.5" width="1288.8" height="3" fill="#0d1418"/>
<rect x="870.7" y="1407.9" width="1288.8" height="3" fill="#0d1418"/>
<rect x="870.7" y="1457.9" width="1288.8" height="3" fill="#0d1418"/>
<rect x="870.7" y="1507.3" width="1288.8" height="3" fill="#0d1418"/>
<rect x="870.7" y="1159.9" width="3" height="350.4" fill="#0d1418"/>
<rect x="1096.8" y="1159.9" width="3" height="350.4" fill="#0d1418"/>
<rect x="1484.7" y="1159.9" width="3" height="350.4" fill="#0d1418"/>
<rect x="1666.7" y="1159.9" width="3" height="350.4" fill="#0d1418"/>
<rect x="2156.5" y="1159.9" width="3" height="350.4" fill="#0d1418"/>
<text x="905.5" y="1194.4" font-size="32" font-weight="bold" textLength="155.0" lengthAdjust="spacingAndGlyphs" stroke="#000" stroke-width="0.55">Accession</text>
<text x="923.0" y="1237.2" font-size="32" font-weight="bold" textLength="124.0" lengthAdjust="spacingAndGlyphs" stroke="#000" stroke-width="0.55">Number</text>
<text x="1236.5" y="1214.3" font-size="32" font-weight="bold" textLength="112.5" lengthAdjust="spacingAndGlyphs" stroke="#000" stroke-width="0.55">Protein</text>
<text x="1497.0" y="1194.4" font-size="32" font-weight="bold" textLength="157.0" lengthAdjust="spacingAndGlyphs" stroke="#000" stroke-width="0.55">Molecular</text>
<text x="1520.0" y="1237.8" font-size="32" font-weight="bold" textLength="113.0" lengthAdjust="spacingAndGlyphs" stroke="#000" stroke-width="0.55">Weight</text>
<text x="1756.0" y="1194.4" font-size="32" font-weight="bold" textLength="313.5" lengthAdjust="spacingAndGlyphs" stroke="#000" stroke-width="0.55">Homologue of other</text>
<text x="1773" y="1237.0" stroke="#000" stroke-width="0.4" font-size="32" font-weight="bold" textLength="290" lengthAdjust="spacingAndGlyphs"><tspan font-style="italic">Xanthomonas</tspan> spp.</text>
<text x="878.0" y="1291.3" font-size="33" textLength="197.5" lengthAdjust="spacingAndGlyphs" stroke="#000" stroke-width="0.55">ASF73_13775</text>
<text x="1104.5" y="1291.3" font-size="33" textLength="226.5" lengthAdjust="spacingAndGlyphs" stroke="#000" stroke-width="0.55">Endoglucanase</text>
<text x="1493.5" y="1291.3" font-size="33" textLength="97.5" lengthAdjust="spacingAndGlyphs" stroke="#000" stroke-width="0.55">52 kDa</text>
<text x="878.0" y="1348.6" font-size="33" textLength="197.5" lengthAdjust="spacingAndGlyphs" stroke="#000" stroke-width="0.55">ASF73_18370</text>
<text x="1104.5" y="1348.6" font-size="33" textLength="241.0" lengthAdjust="spacingAndGlyphs" stroke="#000" stroke-width="0.55">Serine protease</text>
<text x="1493.5" y="1348.6" font-size="33" textLength="97.5" lengthAdjust="spacingAndGlyphs" stroke="#000" stroke-width="0.55">64 kDa</text>
<text x="878.0" y="1398.6" font-size="33" textLength="197.5" lengthAdjust="spacingAndGlyphs" stroke="#000" stroke-width="0.55">ASF73_04230</text>
<text x="1104.5" y="1398.6" font-size="33" textLength="358.0" lengthAdjust="spacingAndGlyphs" stroke="#000" stroke-width="0.55">Pectate lyase precursor</text>
<text x="1493.5" y="1398.6" font-size="33" textLength="97.5" lengthAdjust="spacingAndGlyphs" stroke="#000" stroke-width="0.55">40 kDa</text>
<text x="878.0" y="1448.2" font-size="33" textLength="197.5" lengthAdjust="spacingAndGlyphs" stroke="#000" stroke-width="0.55">ASF73_20170</text>
<text x="1104.5" y="1448.2" font-size="33" textLength="358.0" lengthAdjust="spacingAndGlyphs" stroke="#000" stroke-width="0.55">Pectate lyase precursor</text>
<text x="1493.5" y="1448.2" font-size="33" textLength="97.5" lengthAdjust="spacingAndGlyphs" stroke="#000" stroke-width="0.55">37 kDa</text>
<text x="878.0" y="1498.0" font-size="33" textLength="197.5" lengthAdjust="spacingAndGlyphs" stroke="#000" stroke-width="0.55">ASF73_20190</text>
<text x="1104.5" y="1498.0" font-size="33" textLength="313.0" lengthAdjust="spacingAndGlyphs" stroke="#000" stroke-width="0.55">Lysyl endopeptidase</text>
<text x="1493.5" y="1498.0" font-size="33" textLength="97.5" lengthAdjust="spacingAndGlyphs" stroke="#000" stroke-width="0.55">48 kDa</text>
<text x="1673.0" y="1291.3" font-size="33" textLength="134.0" lengthAdjust="spacingAndGlyphs" stroke="#000" stroke-width="0.55">XCV0670</text>
<text x="1807.5" y="1276.8" font-size="20" stroke="#000" stroke-width="0.4">a</text>
<text x="1819.0" y="1291.3" font-size="33" textLength="156.0" lengthAdjust="spacingAndGlyphs" stroke="#000" stroke-width="0.55">, XOO4019</text>
<text x="1976.0" y="1276.3" font-size="20" stroke="#000" stroke-width="0.4">b</text>
<text x="1673.0" y="1348.6" font-size="33" textLength="134.0" lengthAdjust="spacingAndGlyphs" stroke="#000" stroke-width="0.55">XAC3980</text>
<text x="1807.5" y="1334.1" font-size="20" stroke="#000" stroke-width="0.4">c</text>
<text x="1818.0" y="1348.6" font-size="33" textLength="148.0" lengthAdjust="spacingAndGlyphs" stroke="#000" stroke-width="0.55">, XCV4074</text>
<text x="1967.0" y="1333.6" font-size="20" stroke="#000" stroke-width="0.4">d</text>
<text x="1674.0" y="1398.6" font-size="33" stroke="#000" stroke-width="0.55">-</text>
<text x="1674.0" y="1448.2" font-size="33" stroke="#000" stroke-width="0.55">-</text>
<text x="1674.0" y="1498.0" font-size="33" stroke="#000" stroke-width="0.55">-</text>
<text x="1674.5" y="1535.0" font-size="20" stroke="#000" stroke-width="0.4">a</text>
<text x="1691.5" y="1548.5" font-size="31" textLength="379.5" lengthAdjust="spacingAndGlyphs" stroke="#000" stroke-width="0.55">Sole et al. 2015, J. Bacteriol.</text>
<text x="1674.5" y="1574.2" font-size="20" stroke="#000" stroke-width="0.4">b</text>
<text x="1691.5" y="1587.7" font-size="31" textLength="293.5" lengthAdjust="spacingAndGlyphs" stroke="#000" stroke-width="0.55">Jha et al. 2007, MPMI</text>
<text x="1674.5" y="1612.1" font-size="20" stroke="#000" stroke-width="0.4">c</text>
<text x="1691.5" y="1625.6" font-size="31" textLength="429.5" lengthAdjust="spacingAndGlyphs" stroke="#000" stroke-width="0.55">Laia et al. 2009 BMC Microbiol.</text>
<text x="1674.5" y="1653.7" font-size="20" stroke="#000" stroke-width="0.4">d</text>
<text x="1691.5" y="1667.2" font-size="31" textLength="444.5" lengthAdjust="spacingAndGlyphs" stroke="#000" stroke-width="0.55">Szczesny et al. 2010, New Phytol.</text>
</svg>
</body>
</html>
